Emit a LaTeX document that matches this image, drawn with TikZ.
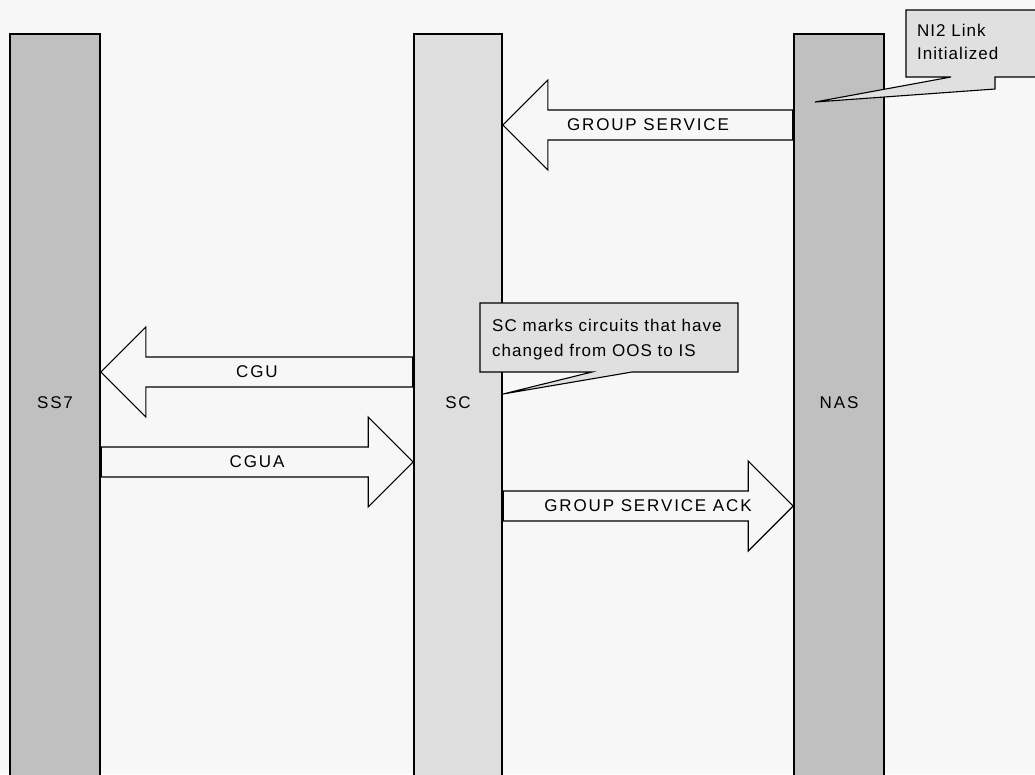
\documentclass[tikz,border=0pt]{standalone}
\usepackage{fontspec}
\newfontfamily\msgfont[LetterSpace=11]{Liberation Sans}
\newfontfamily\notefont[LetterSpace=6]{Liberation Sans}
\usepackage{tikz}
\usetikzlibrary{calc, positioning}
\definecolor{bgcol}{HTML}{F7F7F7}
\definecolor{bardark}{HTML}{C0C0C0}
\definecolor{barlight}{HTML}{DEDEDE}
\definecolor{notefill}{HTML}{E0E0E0}

\tikzset{
  bar/.style={draw=black, line width=1.6pt, minimum height=760pt, anchor=north, inner sep=0pt},
  barname/.style={font=\msgfont\fontsize{17}{20}\selectfont, inner sep=0pt},
  msg/.style={font=\msgfont\fontsize{17}{20}\selectfont, inner sep=0pt},
  fat arrow/.style={draw=black, line width=1.1pt, fill=bgcol, to path={
    ($(\tikztostart)+(0,-15)$) -- ($(\tikztotarget)!45pt!(\tikztostart)+(0,-15)$)
    -- ($(\tikztotarget)!45pt!(\tikztostart)+(0,-45)$) -- (\tikztotarget)
    -- ($(\tikztotarget)!45pt!(\tikztostart)+(0,45)$)
    -- ($(\tikztotarget)!45pt!(\tikztostart)+(0,15)$)
    -- ($(\tikztostart)+(0,15)$) -- cycle}},
  start edge/.style={line width=2.6pt},
  callout/.style={draw=black, line width=1.1pt, fill=notefill, line join=miter},
  notetext/.style={font=\notefont\fontsize{17}{23}\selectfont, align=left, inner sep=0pt, anchor=north west}
}

\begin{document}
\begin{tikzpicture}[x=1pt, y=-1pt]
  \useasboundingbox (0,0) rectangle (1035,774);
  \fill[bgcol] (0,0) rectangle (1035,774);

  % Lifelines
  \node[bar, fill=bardark, minimum width=90pt] (ss7) at (55,33) {};
  \node[bar, fill=barlight, minimum width=88pt] (sc) at (458,33) {};
  \node[bar, fill=bardark, minimum width=90pt] (nas) at (839,33) {};

  \node[barname] (ss7-name) at (ss7.north |- 0,403) {SS7};
  \node[barname] (sc-name) at (sc.north |- 0,403) {SC};
  \node[barname] (nas-name) at (nas.north |- 0,403) {NAS};

  % Message end points
  \coordinate (gs-from) at (nas.west |- 0,125);
  \coordinate (gs-to) at (sc.east |- 0,125);
  \coordinate (cgu-from) at (sc.west |- 0,372);
  \coordinate (cgu-to) at (ss7.east |- 0,372);
  \coordinate (cgua-from) at (ss7.east |- 0,462);
  \coordinate (cgua-to) at (sc.west |- 0,462);
  \coordinate (ack-from) at (sc.east |- 0,506);
  \coordinate (ack-to) at (nas.west |- 0,506);

  % Messages
  \draw[fat arrow] (gs-from) to (gs-to);
  \draw[fat arrow] (cgu-from) to (cgu-to);
  \draw[fat arrow] (cgua-from) to (cgua-to);
  \draw[fat arrow] (ack-from) to (ack-to);
  \foreach \p in {gs-from, cgu-from, cgua-from, ack-from}
    \draw[start edge] ($(\p)+(0,-15)$) -- ($(\p)+(0,15)$);

  \node[msg] (gs-lbl) at ($(gs-from)!.5!(gs-to)$) {GROUP SERVICE};
  \node[msg] (cgu-lbl) at ($(cgu-from)!.5!(cgu-to)$) {CGU};
  \node[msg] (cgua-lbl) at ($(cgua-from)!.5!(cgua-to)$) {CGUA};
  \node[msg] (ack-lbl) at ($(ack-from)!.5!(ack-to)$) {GROUP SERVICE ACK};

  % Callouts
  \coordinate (ni2-tip) at (815,102);
  \draw[callout] (906,10) -- (1040,10) -- (1040,77) -- (995,77) -- (995,89)
    -- (ni2-tip) -- (951,77) -- (906,77) -- cycle;
  \node[notetext] (ni2-note) at (917,24) {NI2 Link\\Initialized};

  \coordinate (sc-tip) at (503,394);
  \draw[callout] (480,303) -- (738,303) -- (738,372) -- (632,372)
    -- (sc-tip) -- (592,372) -- (480,372) -- cycle;
  \node[notetext, font=\notefont\fontsize{17}{25}\selectfont] (sc-note) at (492,319)
    {SC marks circuits that have\\changed from OOS to IS};
\end{tikzpicture}
\end{document}
